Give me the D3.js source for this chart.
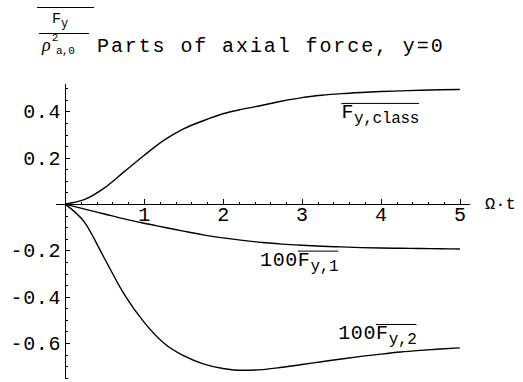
<!DOCTYPE html>
<meta charset="utf-8">
<script src="https://d3js.org/d3.v7.min.js"></script>
<style>
body { margin: 0; background: #fff; }
text { font-family: "Liberation Mono", "DejaVu Sans Mono", monospace; fill: #000; }
.axis path, .axis line { stroke: #000; stroke-width: 1px; shape-rendering: crispEdges; }
.axis text { font-size: 20px; letter-spacing: 0.6px; }
.curve { fill: none; stroke: #000; stroke-width: 1.4px; }
</style>
<body>
<script>
// time values (Omega*t)
var tVals = [0, 0.25, 0.5, 0.75, 1, 1.25, 1.5, 1.75, 2, 2.25, 2.5, 2.75, 3, 3.25, 3.5, 3.75, 4, 4.25, 4.5, 4.75, 5];

// F_y,class
var fClass = [0, 0.02, 0.07, 0.14, 0.21, 0.275, 0.325, 0.36, 0.39, 0.41, 0.427, 0.445, 0.46, 0.47, 0.477, 0.482, 0.486, 0.489, 0.492, 0.494, 0.495];
// 100 F_y,1
var fOne = [0, -0.022, -0.043, -0.064, -0.083, -0.1, -0.117, -0.133, -0.146, -0.157, -0.166, -0.173, -0.178, -0.182, -0.185, -0.188, -0.19, -0.191, -0.192, -0.193, -0.194];
// 100 F_y,2
var fTwo = [0, -0.08, -0.235, -0.39, -0.51, -0.6, -0.655, -0.69, -0.71, -0.718, -0.715, -0.705, -0.693, -0.681, -0.669, -0.658, -0.648, -0.639, -0.632, -0.626, -0.621];

var xMajor = [1, 2, 3, 4, 5];
var yMajor = [-0.6, -0.4, -0.2, 0.2, 0.4];

var W = 523, H = 382;
var svg = d3.select("body").append("svg").attr("width", W).attr("height", H);

var x = d3.scaleLinear().domain([-0.127, 5.12]).range([55, 469.3]);
var y = d3.scaleLinear().domain([-0.747, 0.523]).range([377, 83]);

var xMinor = d3.range(1, 26).map(function(i) { return i * 0.2; }).filter(function(v) { return Math.abs(v - Math.round(v)) > 1e-6; });
var yMinor = d3.range(-15, 11).map(function(i) { return i * 0.05; }).filter(function(v) { return Math.abs(v * 5 - Math.round(v * 5)) > 1e-6; });

// x axis
svg.append("g").attr("class", "x axis")
    .attr("transform", "translate(0," + y(0) + ")")
    .call(d3.axisBottom(x).tickValues(xMinor).tickSizeInner(-2.5).tickSizeOuter(0).tickFormat(""));
svg.append("g").attr("class", "x axis")
    .attr("transform", "translate(0," + y(0) + ")")
    .call(d3.axisBottom(x).tickValues(xMajor).tickSizeInner(-5).tickSizeOuter(0).tickPadding(3).tickFormat(d3.format("d")))
    .select(".domain").remove();

// y axis
svg.append("g").attr("class", "y axis")
    .attr("transform", "translate(" + x(0) + ",0)")
    .call(d3.axisLeft(y).tickValues(yMinor).tickSizeInner(-2.5).tickSizeOuter(0).tickFormat(""));
svg.append("g").attr("class", "y axis")
    .attr("transform", "translate(" + x(0) + ",0)")
    .call(d3.axisLeft(y).tickValues(yMajor).tickSizeInner(-5).tickSizeOuter(0).tickPadding(4).tickFormat(d3.format(".1f")))
    .select(".domain").remove();
svg.selectAll(".axis text").text(function() { return this.textContent.replace("−", "-"); });

// curves
var line = d3.line()
    .x(function(d) { return x(d[0]); })
    .y(function(d) { return y(d[1]); })
    .curve(d3.curveMonotoneX);

[fClass, fOne, fTwo].forEach(function(s) {
  svg.append("path").attr("class", "curve")
    .attr("d", line(tVals.map(function(t, i) { return [t, s[i]]; })));
});

// curve labels: Fbar with subscript
function label(px, py, prefix, sub) {
  var g = svg.append("g").attr("transform", "translate(" + px + "," + py + ")");
  var t = g.append("text").attr("font-size", 20).style("letter-spacing", "0.6px");
  t.append("tspan").text(prefix);
  t.append("tspan").text("F");
  t.append("tspan").attr("dy", 5).attr("font-size", 16).style("letter-spacing", "-0.3px").text(sub);
  var bb = t.node().getBBox();
  var fx = t.node().getStartPositionOfChar(prefix.length).x;
  g.append("line").attr("x1", fx).attr("x2", bb.x + bb.width)
    .attr("y1", -15).attr("y2", -15).attr("stroke", "#000").attr("stroke-width", 1);
}
label(x(3.5), y(0.37), "", "y,class");
label(x(2.47), y(-0.268), "100", "y,1");
label(x(3.46), y(-0.585), "100", "y,2");

// x axis label
svg.append("text").attr("x", 485).attr("y", y(0) + 5)
  .attr("font-size", 17).text("Ω·t");

// y axis title: Fbar_y / rho^2_{a,0}
var tt = svg.append("g");
tt.append("line").attr("x1", 37).attr("x2", 94).attr("y1", 7.5).attr("y2", 7.5).attr("stroke", "#000");
var fy = tt.append("text").attr("x", 52).attr("y", 23).attr("font-size", 15);
fy.append("tspan").text("F");
fy.append("tspan").attr("dy", 4).attr("font-size", 12).text("y");
tt.append("line").attr("x1", 39).attr("x2", 89).attr("y1", 33.5).attr("y2", 33.5).attr("stroke", "#000");
var rho = tt.append("text").attr("x", 42).attr("y", 51);
rho.append("tspan").style("font-family", "'Liberation Serif', serif").style("font-style", "italic")
  .attr("font-size", 18).text("ρ");
rho.append("tspan").attr("dx", 1).attr("dy", -10).attr("font-size", 11).text("2");
rho.append("tspan").attr("x", 56).attr("y", 54).attr("font-size", 11).style("letter-spacing", "-0.5px").text("a,0");

svg.append("text").attr("x", 97).attr("y", 52).attr("font-size", 20)
  .style("letter-spacing", "1.9px").text("Parts of axial force, y=0");
</script>
</body>
